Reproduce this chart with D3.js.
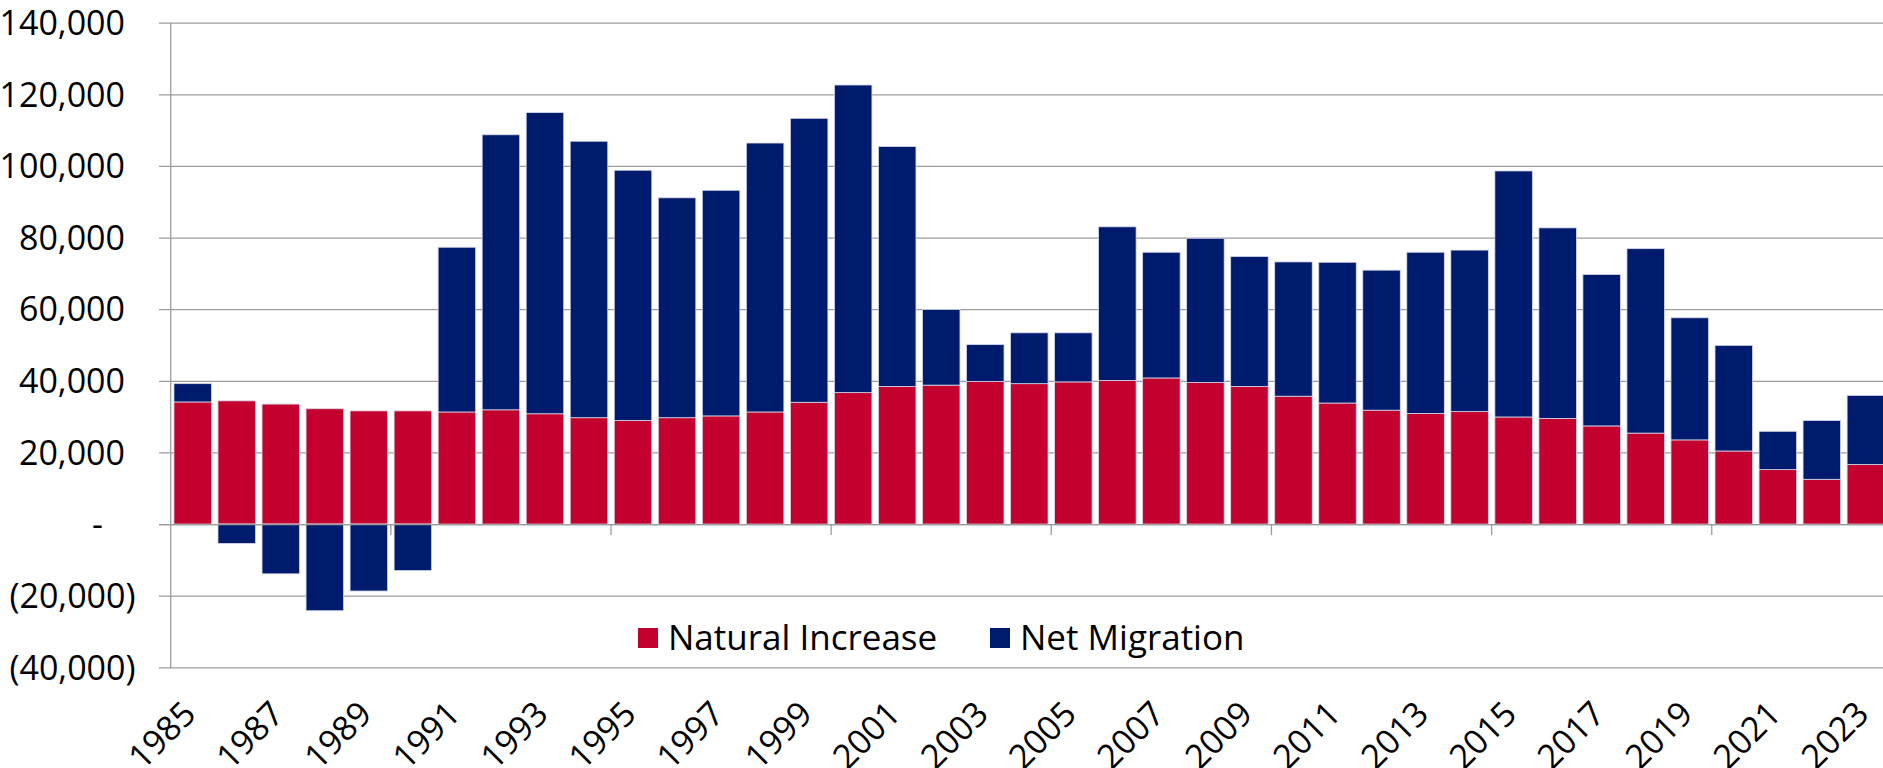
<!DOCTYPE html>
<html>
<head>
<meta charset="utf-8">
<script src="https://cdn.jsdelivr.net/npm/d3@7"></script>
<style>
  html, body { margin: 0; padding: 0; background: #ffffff; }
  svg { display: block; }
  text { font-family: "Open Sans", "Liberation Sans", sans-serif; fill: #000; }
</style>
</head>
<body>
<script>
// ---------------- DATA ----------------
const years = [1985, 1986, 1987, 1988, 1989, 1990, 1991, 1992, 1993, 1994,
               1995, 1996, 1997, 1998, 1999, 2000, 2001, 2002, 2003, 2004,
               2005, 2006, 2007, 2008, 2009, 2010, 2011, 2012, 2013, 2014,
               2015, 2016, 2017, 2018, 2019, 2020, 2021, 2022, 2023];

const naturalIncrease = [34100, 34400, 33500, 32200, 31600, 31600, 31300, 31900, 30800, 29700,
                         28900, 29700, 30200, 31300, 34000, 36700, 38400, 38800, 39800, 39200,
                         39700, 40100, 40800, 39500, 38400, 35700, 33800, 31800, 30900, 31400,
                         29900, 29500, 27400, 25400, 23500, 20400, 15200, 12500, 16600];

const netMigration = [5100, -5400, -13900, -24200, -18700, -13000, 46000, 76800, 84100, 77200,
                      69900, 61400, 63000, 75100, 79300, 85900, 67000, 21100, 10300, 14200,
                      13700, 42900, 35100, 40300, 36300, 37500, 39300, 39100, 45000, 45100,
                      68700, 53200, 42300, 51500, 34100, 29500, 10700, 16400, 19300];

const seriesNames = ["Natural Increase", "Net Migration"];
const seriesColors = ["#C4002F", "#001A6E"];

const yTickValues = [-40000, -20000, 0, 20000, 40000, 60000, 80000, 100000, 120000, 140000];
const xLabelYears = [1985, 1987, 1989, 1991, 1993, 1995, 1997, 1999, 2001, 2003,
                     2005, 2007, 2009, 2011, 2013, 2015, 2017, 2019, 2021, 2023];
const xTickBoundaryYears = [1990, 1995, 2000, 2005, 2010, 2015, 2020];

// ---------------- LAYOUT ----------------
const W = 1883, H = 768;
const axisX = 170.7;
const step = 44.03;

const svg = d3.select("body").append("svg")
  .attr("width", W).attr("height", H)
  .attr("viewBox", `0 0 ${W} ${H}`);

svg.append("rect").attr("width", W).attr("height", H).attr("fill", "#fff");

const x = d3.scaleBand()
  .domain(years)
  .range([axisX, axisX + years.length * step])
  .paddingInner(0.148)
  .paddingOuter(0.074);

const y = d3.scaleLinear()
  .domain([-40000, 140000])
  .range([667.3, 22.7]);

const gridColor = "#9c9c9c";

// gridlines (start at tick start, extend to right edge)
const gridG = svg.append("g")
  .attr("transform", "translate(159,0)")
  .call(d3.axisRight(y).tickValues(yTickValues).tickSize(W - 159).tickFormat(""));
gridG.select(".domain").remove();
gridG.selectAll("line").attr("stroke", gridColor).attr("stroke-width", 1.3);

// y tick labels (accounting-style alignment)
const fmtNum = d3.format(",");
function fmtY(d) {
  if (d === 0) return "-";
  if (d < 0) return "(" + fmtNum(-d) + ")";
  return fmtNum(d);
}
svg.append("g").selectAll("text")
  .data(yTickValues)
  .join("text")
  .attr("x", d => d < 0 ? 135.5 : (d === 0 ? 103 : 125))
  .attr("y", d => y(d))
  .attr("dy", "0.36em")
  .attr("text-anchor", "end")
  .attr("font-size", 34)
  .text(fmtY);

// ---------------- BARS ----------------
const rows = years.map((yr, i) => ({ year: yr, natural: naturalIncrease[i], migration: netMigration[i] }));
const stack = d3.stack()
  .keys(["natural", "migration"])
  .offset(d3.stackOffsetDiverging);
const stacked = stack(rows);

svg.append("g").selectAll("g")
  .data(stacked)
  .join("g")
  .attr("fill", (d, i) => seriesColors[i])
  .selectAll("rect")
  .data(d => d)
  .join("rect")
  .attr("x", d => x(d.data.year))
  .attr("width", x.bandwidth())
  .attr("y", d => y(Math.max(d[0], d[1])))
  .attr("height", d => Math.abs(y(d[0]) - y(d[1])))
  .attr("stroke", "#d6d8e6")
  .attr("stroke-width", 0.8);

// ---------------- AXES ----------------
// category axis line at zero
svg.append("line")
  .attr("x1", 159).attr("x2", W)
  .attr("y1", y(0) + 0.5).attr("y2", y(0) + 0.5)
  .attr("stroke", gridColor).attr("stroke-width", 1.3);

// vertical value axis line
svg.append("line")
  .attr("x1", axisX).attr("x2", axisX)
  .attr("y1", y(140000)).attr("y2", y(-40000) + 1)
  .attr("stroke", gridColor).attr("stroke-width", 1.3);

// category tick marks (every 5 categories, at band boundaries)
const halfGap = x.step() * x.paddingInner() / 2;
svg.append("g").selectAll("line")
  .data(xTickBoundaryYears)
  .join("line")
  .attr("x1", d => x(d) - halfGap)
  .attr("x2", d => x(d) - halfGap)
  .attr("y1", y(0))
  .attr("y2", y(0) + 11)
  .attr("stroke", gridColor).attr("stroke-width", 1.3);

// rotated year labels
svg.append("g").selectAll("text")
  .data(xLabelYears)
  .join("text")
  .attr("transform", d => `translate(${x(d) + x.bandwidth() / 2 + 5},716) rotate(-45)`)
  .attr("text-anchor", "end")
  .attr("font-size", 34)
  .text(d => d);

// ---------------- LEGEND ----------------
const legendX = [638, 990];
const legend = svg.append("g").selectAll("g")
  .data(seriesNames)
  .join("g")
  .attr("transform", (d, i) => `translate(${legendX[i]},628)`);
legend.append("rect")
  .attr("width", 20).attr("height", 20)
  .attr("fill", (d, i) => seriesColors[i]);
legend.append("text")
  .attr("x", 30).attr("y", 21.5)
  .attr("font-size", 35)
  .text(d => d);
</script>
</body>
</html>
